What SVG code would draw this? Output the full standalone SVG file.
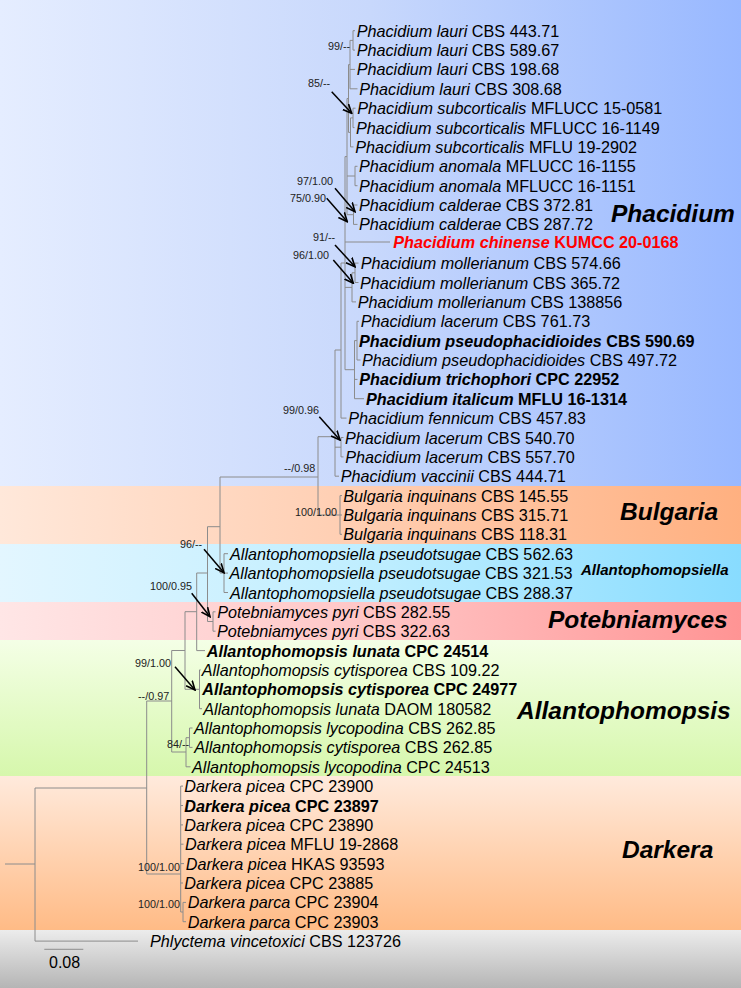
<svg xmlns="http://www.w3.org/2000/svg" width="741" height="988" viewBox="0 0 741 988">
<defs>
<linearGradient id="gPha" x1="0" y1="0" x2="1" y2="0"><stop offset="0" stop-color="#e5edff"/><stop offset="0.5" stop-color="#c8d8fc"/><stop offset="1" stop-color="#98b8ff"/></linearGradient>
<linearGradient id="gBul" x1="0" y1="0" x2="1" y2="0"><stop offset="0" stop-color="#ffe8da"/><stop offset="0.5" stop-color="#ffcdb0"/><stop offset="1" stop-color="#ffb080"/></linearGradient>
<linearGradient id="gAlp" x1="0" y1="0" x2="1" y2="0"><stop offset="0" stop-color="#e3f6ff"/><stop offset="0.5" stop-color="#bfeeff"/><stop offset="1" stop-color="#88dcff"/></linearGradient>
<linearGradient id="gPot" x1="0" y1="0" x2="1" y2="0"><stop offset="0" stop-color="#ffe6e6"/><stop offset="0.5" stop-color="#ffc6c6"/><stop offset="1" stop-color="#ff9494"/></linearGradient>
<linearGradient id="gAls" x1="0" y1="0" x2="0" y2="1"><stop offset="0" stop-color="#f4ffe6"/><stop offset="1" stop-color="#d6f7ac"/></linearGradient>
<linearGradient id="gDar" x1="0" y1="0" x2="0" y2="1"><stop offset="0" stop-color="#ffeadc"/><stop offset="1" stop-color="#ffbb86"/></linearGradient>
<linearGradient id="gPhl" x1="0" y1="0" x2="0" y2="1"><stop offset="0" stop-color="#ececec"/><stop offset="1" stop-color="#b5b5b5"/></linearGradient>
<marker id="ah" viewBox="0 0 10 10" refX="9" refY="5" markerWidth="10" markerHeight="10" markerUnits="userSpaceOnUse" orient="auto"><path d="M0,1 L9,5 L0,9" fill="none" stroke="#000" stroke-width="1.6"/></marker>
</defs>
<style>
text{font-family:"Liberation Sans",Arial,sans-serif;fill:#000}
.lf{font-size:16.2px}
.i{font-style:italic}
.b{font-weight:bold}
.red{fill:#ff0000}
.clade{font-size:24.5px;font-weight:bold;font-style:italic}
.sup{font-size:10.8px;fill:#222}
.br{fill:none;stroke:#8c8c8c;stroke-width:1}
.arr{fill:none;stroke:#000;stroke-width:1.5;marker-end:url(#ah)}
</style>
<g id="bands">
<rect x="0" y="0" width="741" height="486" fill="url(#gPha)"/>
<rect x="0" y="486" width="741" height="58" fill="url(#gBul)"/>
<rect x="0" y="544" width="741" height="58" fill="url(#gAlp)"/>
<rect x="0" y="602" width="741" height="38" fill="url(#gPot)"/>
<rect x="0" y="640" width="741" height="136" fill="url(#gAls)"/>
<rect x="0" y="776" width="741" height="154" fill="url(#gDar)"/>
<rect x="0" y="930" width="741" height="58" fill="url(#gPhl)"/>
</g>
<g id="connectors">
<path class="br" d="M5,864H35 M35,788V941.1 M35,788H146.7 M35,941.1H138
M146.7,701V874 M146.7,701H171.7 M146.7,874H180.7
M171.7,650.5V752 M171.7,650.5H185 M171.7,752H186
M186,737.7V766.8 M186,737.7H189.5 M186,766.8H190.5
M189.5,728V747.4 M189.5,728H192.5 M189.5,747.4H192.5
M185,611.7V689.3 M185,611.7H196.7 M185,689.3H199.5
M199.5,669.9V708.7 M199.5,669.9H200.7 M199.5,708.7H202
M196.7,573V650.6 M196.7,573H207.5 M196.7,650.6H205
M207.5,526.7V621.5 M207.5,526.7H220 M207.5,621.5H213
M213,611.8V631.2 M213,611.8H215.5 M213,631.2H215.5
M220,477V573 M220,477H318 M220,573H224
M224,553.7V592.5 M224,553.7H228 M224,573.1H228 M224,592.5H228
M318,436.7V515 M318,436.7H335 M318,515H340
M340,495.6V534.3 M340,495.6H342 M340,515H342 M340,534.3H342
M335,350V476.2 M335,350H341 M335,447.2H341 M335,476.2H339
M341,437.5V456.9 M341,437.5H343.5 M341,456.9H343.5
M341,263V418.1 M341,263H345 M341,418.1H346.5
M345,156.6V369.7 M345,156.6H347 M345,242H390 M345,287.4H352 M345,369.7H354.5
M354.5,340.6V398.7 M354.5,340.6H357 M354.5,379.4H357.5 M354.5,398.7H364
M357,321.3V360 M357,321.3H359 M357,360H360.5
M352,272.8V301.9 M352,272.8H355 M352,301.9H356
M355,263.1V282.5 M355,263.1H358.5 M355,282.5H358.5
M347,98.5V214.7 M347,98.5H348.5 M347,176H355 M347,214.7H353.5
M353.5,205V224.4 M353.5,205H357.5 M353.5,224.4H357.5
M355,166.3V185.7 M355,166.3H357.5 M355,185.7H357.5
M348.5,64.6V132.4 M348.5,64.6H350 M348.5,132.4H350.5
M350.5,117.9V146.9 M350.5,117.9H353 M350.5,146.9H353.5
M353,108.2V127.6 M353,108.2H355.5 M353,127.6H354.5
M350,40.4V88.8 M350,40.4H353 M350,69.4H355 M350,88.8H357.5
M353,30.7V50.1 M353,30.7H355 M353,50.1H355
M180.7,786.1V912 M180.7,786.1H183 M180.7,805.5H183 M180.7,824.9H183 M180.7,844.2H183.5 M180.7,863.6H184 M180.7,883H183 M180.7,912H183
M183,902.4V921.7 M183,902.4H186 M183,921.7H186"/>
<line class="arr" x1="331.7" y1="91.7" x2="351.7" y2="113.3"/>
<line class="arr" x1="335" y1="188.3" x2="355" y2="211.7"/>
<line class="arr" x1="326.7" y1="198.3" x2="347.3" y2="221.7"/>
<line class="arr" x1="335" y1="245" x2="355" y2="266.7"/>
<line class="arr" x1="333.3" y1="260" x2="353.3" y2="283.3"/>
<line class="arr" x1="319.3" y1="416.7" x2="340" y2="440"/>
<line class="arr" x1="204" y1="549.3" x2="224" y2="572.7"/>
<line class="arr" x1="191.7" y1="593.3" x2="210" y2="616.7"/>
<line class="arr" x1="175" y1="666.7" x2="195" y2="690"/>
<line x1="44.3" y1="949.3" x2="83.3" y2="949.3" stroke="#8c8c8c" stroke-width="1"/>
</g>
<g id="support">
<text class="sup" x="328" y="50">99/--</text>
<text class="sup" x="308" y="87">85/--</text>
<text class="sup" x="297" y="185">97/1.00</text>
<text class="sup" x="290" y="201.5">75/0.90</text>
<text class="sup" x="313" y="241">91/--</text>
<text class="sup" x="293" y="259">96/1.00</text>
<text class="sup" x="283" y="414">99/0.96</text>
<text class="sup" x="284" y="472">--/0.98</text>
<text class="sup" x="295" y="516">100/1.00</text>
<text class="sup" x="180" y="548">96/--</text>
<text class="sup" x="150" y="590">100/0.95</text>
<text class="sup" x="135" y="667">99/1.00</text>
<text class="sup" x="138" y="700">--/0.97</text>
<text class="sup" x="167" y="748">84/--</text>
<text class="sup" x="138" y="871">100/1.00</text>
<text class="sup" x="138" y="908">100/1.00</text>
<text x="49" y="968" style="font-size:16px">0.08</text>
</g>
<g id="n1"><text class="lf" x="356.7" y="36.7"><tspan class="i">Phacidium lauri</tspan> CBS 443.71</text></g>
<g id="n2"><text class="lf" x="356.7" y="56.1"><tspan class="i">Phacidium lauri</tspan> CBS 589.67</text></g>
<g id="n3"><text class="lf" x="356.7" y="75.4"><tspan class="i">Phacidium lauri</tspan> CBS 198.68</text></g>
<g id="n4"><text class="lf" x="359.3" y="94.8"><tspan class="i">Phacidium lauri</tspan> CBS 308.68</text></g>
<g id="n5"><text class="lf" x="357.3" y="114.2"><tspan class="i">Phacidium subcorticalis</tspan> MFLUCC 15-0581</text></g>
<g id="n6"><text class="lf" x="356" y="133.6"><tspan class="i">Phacidium subcorticalis</tspan> MFLUCC 16-1149</text></g>
<g id="n7"><text class="lf" x="355.3" y="152.9"><tspan class="i">Phacidium subcorticalis</tspan> MFLU 19-2902</text></g>
<g id="n8"><text class="lf" x="359" y="172.3"><tspan class="i">Phacidium anomala</tspan> MFLUCC 16-1155</text></g>
<g id="n9"><text class="lf" x="359" y="191.7"><tspan class="i">Phacidium anomala</tspan> MFLUCC 16-1151</text></g>
<g id="n10"><text class="lf" x="359" y="211"><tspan class="i">Phacidium calderae</tspan> CBS 372.81</text></g>
<g id="n11"><text class="lf" x="359" y="230.4"><tspan class="i">Phacidium calderae</tspan> CBS 287.72</text></g>
<g id="n12"><text class="lf b red" x="393.3" y="248"><tspan class="i">Phacidium chinense</tspan> KUMCC 20-0168</text></g>
<g id="n13"><text class="lf" x="360.7" y="269.1"><tspan class="i">Phacidium mollerianum</tspan> CBS 574.66</text></g>
<g id="n14"><text class="lf" x="360" y="288.5"><tspan class="i">Phacidium mollerianum</tspan> CBS 365.72</text></g>
<g id="n15"><text class="lf" x="357.7" y="307.9"><tspan class="i">Phacidium mollerianum</tspan> CBS 138856</text></g>
<g id="n16"><text class="lf" x="360.7" y="327.3"><tspan class="i">Phacidium lacerum</tspan> CBS 761.73</text></g>
<g id="n17"><text class="lf b" x="359" y="346.6"><tspan class="i">Phacidium pseudophacidioides</tspan> CBS 590.69</text></g>
<g id="n18"><text class="lf" x="362" y="366"><tspan class="i">Phacidium pseudophacidioides</tspan> CBS 497.72</text></g>
<g id="n19"><text class="lf b" x="359.3" y="385.4"><tspan class="i">Phacidium trichophori</tspan> CPC 22952</text></g>
<g id="n20"><text class="lf b" x="366" y="404.7"><tspan class="i">Phacidium italicum</tspan> MFLU 16-1314</text></g>
<g id="n21"><text class="lf" x="348.3" y="424.1"><tspan class="i">Phacidium fennicum</tspan> CBS 457.83</text></g>
<g id="n22"><text class="lf" x="345" y="443.5"><tspan class="i">Phacidium lacerum</tspan> CBS 540.70</text></g>
<g id="n23"><text class="lf" x="345.3" y="462.9"><tspan class="i">Phacidium lacerum</tspan> CBS 557.70</text></g>
<g id="n24"><text class="lf" x="340.7" y="482.2"><tspan class="i">Phacidium vaccinii</tspan> CBS 444.71</text></g>
<g id="n25"><text class="lf" x="343.3" y="501.6"><tspan class="i">Bulgaria inquinans</tspan> CBS 145.55</text></g>
<g id="n26"><text class="lf" x="343.3" y="521"><tspan class="i">Bulgaria inquinans</tspan> CBS 315.71</text></g>
<g id="n27"><text class="lf" x="343.3" y="540.3"><tspan class="i">Bulgaria inquinans</tspan> CBS 118.31</text></g>
<g id="n28"><text class="lf" x="230" y="559.7"><tspan class="i">Allantophomopsiella pseudotsugae</tspan> CBS 562.63</text></g>
<g id="n29"><text class="lf" x="229.5" y="579.1"><tspan class="i">Allantophomopsiella pseudotsugae</tspan> CBS 321.53</text></g>
<g id="n30"><text class="lf" x="230" y="598.5"><tspan class="i">Allantophomopsiella pseudotsugae</tspan> CBS 288.37</text></g>
<g id="n31"><text class="lf" x="217.3" y="617.8"><tspan class="i">Potebniamyces pyri</tspan> CBS 282.55</text></g>
<g id="n32"><text class="lf" x="217" y="637.2"><tspan class="i">Potebniamyces pyri</tspan> CBS 322.63</text></g>
<g id="n33"><text class="lf b" x="206.7" y="656.6"><tspan class="i">Allantophomopsis lunata</tspan> CPC 24514</text></g>
<g id="n34"><text class="lf" x="201.7" y="675.9"><tspan class="i">Allantophomopsis cytisporea</tspan> CBS 109.22</text></g>
<g id="n35"><text class="lf b" x="202.3" y="695.3"><tspan class="i">Allantophomopsis cytisporea</tspan> CPC 24977</text></g>
<g id="n36"><text class="lf" x="203.3" y="714.7"><tspan class="i">Allantophomopsis lunata</tspan> DAOM 180582</text></g>
<g id="n37"><text class="lf" x="194" y="734"><tspan class="i">Allantophomopsis lycopodina</tspan> CBS 262.85</text></g>
<g id="n38"><text class="lf" x="194.3" y="753.4"><tspan class="i">Allantophomopsis cytisporea</tspan> CBS 262.85</text></g>
<g id="n39"><text class="lf" x="192" y="772.8"><tspan class="i">Allantophomopsis lycopodina</tspan> CPC 24513</text></g>
<g id="n40"><text class="lf" x="184.3" y="792.1"><tspan class="i">Darkera picea</tspan> CPC 23900</text></g>
<g id="n41"><text class="lf b" x="184.3" y="811.5"><tspan class="i">Darkera picea</tspan> CPC 23897</text></g>
<g id="n42"><text class="lf" x="184.3" y="830.9"><tspan class="i">Darkera picea</tspan> CPC 23890</text></g>
<g id="n43"><text class="lf" x="185" y="850.2"><tspan class="i">Darkera picea</tspan> MFLU 19-2868</text></g>
<g id="n44"><text class="lf" x="185.7" y="869.6"><tspan class="i">Darkera picea</tspan> HKAS 93593</text></g>
<g id="n45"><text class="lf" x="184.3" y="889"><tspan class="i">Darkera picea</tspan> CPC 23885</text></g>
<g id="n46"><text class="lf" x="187.7" y="908.4"><tspan class="i">Darkera parca</tspan> CPC 23904</text></g>
<g id="n47"><text class="lf" x="187.7" y="927.7"><tspan class="i">Darkera parca</tspan> CPC 23903</text></g>
<g id="n48"><text class="lf" x="150" y="947.1"><tspan class="i">Phlyctema vincetoxici</tspan> CBS 123726</text></g>
<g id="clades">
<text class="clade" x="611" y="222">Phacidium</text>
<text class="clade" x="620" y="520">Bulgaria</text>
<text class="clade" x="581" y="575" style="font-size:15px">Allantophomopsiella</text>
<text class="clade" x="548" y="628">Potebniamyces</text>
<text class="clade" x="517" y="719">Allantophomopsis</text>
<text class="clade" x="622" y="858">Darkera</text>
</g>
</svg>
